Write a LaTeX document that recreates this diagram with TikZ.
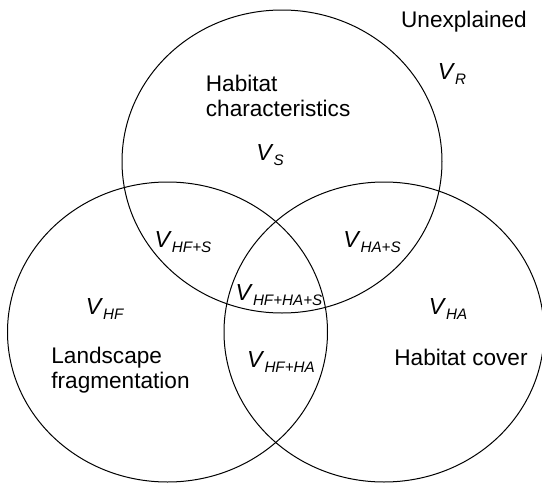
\documentclass[tikz,border=0pt]{standalone}
\usepackage{fontspec}
\setmainfont{Liberation Sans}
\usetikzlibrary{shapes.geometric}
\newcommand{\vpart}[1]{\textit{V}\raisebox{-2.4pt}{\fontsize{7.6}{8}\selectfont\textit{#1}}}

\begin{document}
\begin{tikzpicture}[x=0.5pt, y=-0.5pt,
      every node/.style={font=\fontsize{11.3}{12.6}\selectfont, inner sep=0pt},
      setcircle/.style={ellipse, draw=black, line width=0.5pt,
                        minimum width=160pt, minimum height=150pt},
      term/.style={font=\fontsize{11.6}{12.6}\selectfont},
      setname/.style={align=left},
    ]
    \useasboundingbox (0,0) rectangle (542,483);
    % the three sets
    \node[setcircle, minimum height=151.5pt] (hc) at (282,161.5) {};
    \node[setcircle] (lf) at (167.5,332) {};
    \node[setcircle] (hcov) at (384,332) {};
    % set names
    \node[setname, anchor=west] (hcname) at (205.5,96) {Habitat\\characteristics};
    \node[setname, anchor=west] (lfname) at (51,370) {Landscape\\fragmentation};
    \node (hcovname) at (461,357) {Habitat cover};
    \node (unex) at (464,22) {Unexplained};
    % variance parts
    \node[term] (vr) at (452,74) {\vpart{R}};
    \node[term] (vs) at (270,155) {\vpart{S}};
    \node[term] (vhfs) at (183,242) {\vpart{HF+S}};
    \node[term] (vhas) at (372,242) {\vpart{HA+S}};
    \node[term] (vall) at (279,295) {\vpart{HF+HA+S}};
    \node[term] (vhf) at (105,309) {\vpart{HF}};
    \node[term] (vha) at (448,309) {\vpart{HA}};
    \node[term] (vhfha) at (281,362) {\vpart{HF+HA}};
  \end{tikzpicture}
\end{document}
